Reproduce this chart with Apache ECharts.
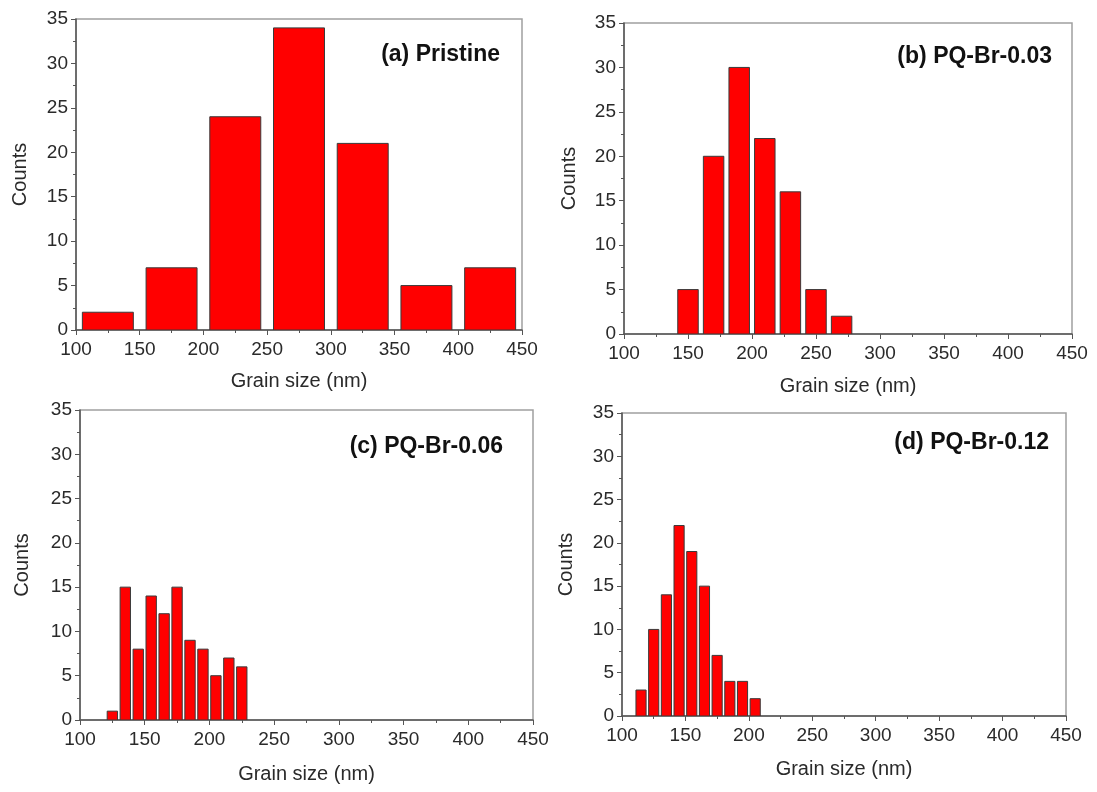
<!DOCTYPE html>
<html>
<head>
<meta charset="utf-8">
<script src="https://cdn.jsdelivr.net/npm/echarts@6/dist/echarts.min.js"></script>
<style>
html,body{margin:0;padding:0;background:#fff;}
#chart{width:1097px;height:792px;}
</style>
</head>
<body>
<div id="chart"></div>
<script>
// ---- data ----
const panelLabels = ['(a) Pristine', '(b) PQ-Br-0.03', '(c) PQ-Br-0.06', '(d) PQ-Br-0.12'];
const xAxisTitle = 'Grain size (nm)';
const yAxisTitle = 'Counts';

const aCenters = [125, 175, 225, 275, 325, 375, 425];
const aCounts  = [2, 7, 24, 34, 21, 5, 7];
const aBin = 50;

const bCenters = [150, 170, 190, 210, 230, 250, 270];
const bCounts  = [5, 20, 30, 22, 16, 5, 2];
const bBin = 20;

const cCenters = [125, 135, 145, 155, 165, 175, 185, 195, 205, 215, 225];
const cCounts  = [1, 15, 8, 14, 12, 15, 9, 8, 5, 7, 6];
const cBin = 10;

const dCenters = [115, 125, 135, 145, 155, 165, 175, 185, 195, 205];
const dCounts  = [3, 10, 14, 22, 19, 15, 7, 4, 4, 2];
const dBin = 10;

const xMin = 100, xMax = 450, xStep = 50;
const yMin = 0, yMax = 35, yStep = 5;

// ---- layout / style ----
const FONT = '"Liberation Sans", Arial, sans-serif';
const grids = [
  {left: 76,  top: 19,  width: 446, height: 311},
  {left: 624, top: 23,  width: 448, height: 311},
  {left: 80,  top: 410, width: 453, height: 310},
  {left: 622, top: 413, width: 444, height: 303}
];
const xNameGaps = [41, 42, 44, 43];
const yNameGaps = [46, 45, 48, 46];
const labelPos = [[500, 55], [1052, 57], [503, 447], [1049, 443]];

const sets = [
  {c: aCenters, v: aCounts, bin: aBin},
  {c: bCenters, v: bCounts, bin: bBin},
  {c: cCenters, v: cCounts, bin: cBin},
  {c: dCenters, v: dCounts, bin: dBin}
];

function makeRender(bin) {
  return function (params, api) {
    const c = api.value(0), v = api.value(1);
    const p0 = api.coord([c - bin * 0.4, v]);
    const p1 = api.coord([c + bin * 0.4, 0]);
    return {
      type: 'rect',
      shape: {x: p0[0], y: p0[1], width: p1[0] - p0[0], height: p1[1] - p0[1]},
      style: {fill: '#ff0000', stroke: '#3a3a3a', lineWidth: 1}
    };
  };
}

const axisLineStyle = {color: '#555', width: 1.5};
const option = {
  backgroundColor: '#fff',
  animation: false,
  grid: grids.map(g => Object.assign({show: true, borderColor: '#a0a0a0', borderWidth: 1.5, containLabel: false}, g)),
  xAxis: grids.map((g, i) => ({
    type: 'value', gridIndex: i, min: xMin, max: xMax, interval: xStep,
    name: xAxisTitle, nameLocation: 'middle', nameGap: xNameGaps[i],
    nameTextStyle: {fontFamily: FONT, fontSize: 20, color: '#2a2a2a'},
    axisLine: {show: true, onZero: false, lineStyle: axisLineStyle},
    axisTick: {show: true, inside: false, length: 5, lineStyle: {color: '#555'}},
    minorTick: {show: true, splitNumber: 2, length: 3, lineStyle: {color: '#555'}},
    axisLabel: {fontFamily: FONT, fontSize: 19, color: '#2a2a2a', margin: 10},
    splitLine: {show: false}
  })),
  yAxis: grids.map((g, i) => ({
    type: 'value', gridIndex: i, min: yMin, max: yMax, interval: yStep,
    name: yAxisTitle, nameLocation: 'middle', nameGap: yNameGaps[i],
    nameTextStyle: {fontFamily: FONT, fontSize: 20, color: '#2a2a2a'},
    axisLine: {show: true, onZero: false, lineStyle: axisLineStyle},
    axisTick: {show: true, inside: false, length: 5, lineStyle: {color: '#555'}},
    minorTick: {show: true, splitNumber: 2, length: 3, lineStyle: {color: '#555'}},
    axisLabel: {fontFamily: FONT, fontSize: 19, color: '#2a2a2a', margin: 8},
    splitLine: {show: false}
  })),
  series: sets.map((s, i) => ({
    type: 'custom', xAxisIndex: i, yAxisIndex: i,
    renderItem: makeRender(s.bin),
    encode: {x: 0, y: 1},
    data: s.c.map((c, k) => [c, s.v[k]]),
    clip: true
  })),
  graphic: panelLabels.map((t, i) => ({
    type: 'text', x: labelPos[i][0], y: labelPos[i][1],
    style: {text: t, font: 'bold 23px ' + FONT, fill: '#111', align: 'right', verticalAlign: 'middle'}
  }))
};

const chart = echarts.init(document.getElementById('chart'), null, {renderer: 'canvas'});
chart.setOption(option);
</script>
</body>
</html>
